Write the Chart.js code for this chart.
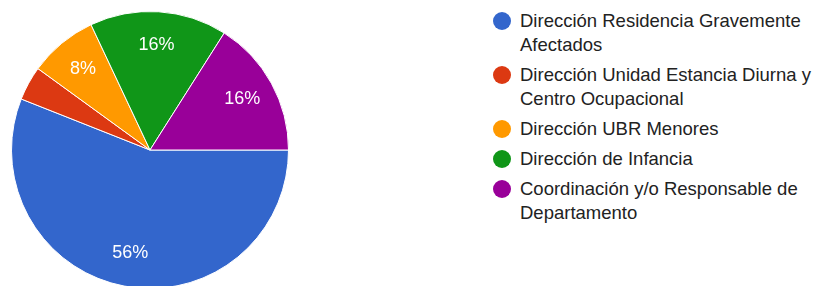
<!DOCTYPE html>
<html>
<head>
<meta charset="utf-8">
<script src="https://cdn.jsdelivr.net/npm/chart.js@4/dist/chart.umd.min.js"></script>
<style>
  html, body { margin: 0; padding: 0; background: #fff; width: 817px; height: 286px; overflow: hidden; }
  #wrap { position: absolute; left: 11px; top: 11px; width: 278px; height: 278px; }
  #legend { position: absolute; left: 493px; top: 9px; font-family: "Liberation Sans", Arial, sans-serif; font-size: 18.5px; color: #222; }
  .item { position: relative; padding-left: 27px; line-height: 24px; margin-bottom: 6px; white-space: nowrap; }
  .dot { position: absolute; left: 0; top: 3px; width: 18px; height: 18px; border-radius: 50%; }
</style>
</head>
<body>
<div id="wrap"><canvas id="c"></canvas></div>
<div id="legend"></div>
<script>
const categories = [
  ["Dirección Residencia Gravemente", "Afectados"],
  ["Dirección Unidad Estancia Diurna y", "Centro Ocupacional"],
  ["Dirección UBR Menores"],
  ["Dirección de Infancia"],
  ["Coordinación y/o Responsable de", "Departamento"]
];
const values = [56, 4, 8, 16, 16];
const colors = ["#3366cc", "#dc3912", "#ff9900", "#109618", "#990099"];

const pctLabels = {
  id: 'pctLabels',
  afterDatasetsDraw(chart) {
    const ctx = chart.ctx;
    const meta = chart.getDatasetMeta(0);
    const total = values.reduce((a, b) => a + b, 0);
    ctx.save();
    ctx.fillStyle = '#ffffff';
    ctx.font = '18px "Liberation Sans", Arial, sans-serif';
    ctx.textAlign = 'center';
    ctx.textBaseline = 'middle';
    meta.data.forEach((arc, i) => {
      const pct = values[i] / total * 100;
      if (pct < 5) return;
      const p = arc.getProps(['x', 'y', 'startAngle', 'endAngle', 'outerRadius'], true);
      const mid = (p.startAngle + p.endAngle) / 2;
      const d = p.outerRadius * 0.76;
      ctx.fillText(Math.round(pct) + '%', p.x + Math.cos(mid) * d, p.y + Math.sin(mid) * d);
    });
    ctx.restore();
  }
};

new Chart(document.getElementById('c'), {
  type: 'pie',
  data: {
    labels: categories.map(l => l.join(' ')),
    datasets: [{
      data: values,
      backgroundColor: colors,
      borderColor: '#ffffff',
      borderWidth: 1
    }]
  },
  options: {
    responsive: true,
    maintainAspectRatio: false,
    animation: false,
    rotation: 90,
    layout: { padding: 0 },
    plugins: { legend: { display: false }, tooltip: { enabled: false } }
  },
  plugins: [pctLabels]
});

const leg = document.getElementById('legend');
categories.forEach((lines, i) => {
  const it = document.createElement('div');
  it.className = 'item';
  const dot = document.createElement('span');
  dot.className = 'dot';
  dot.style.background = colors[i];
  it.appendChild(dot);
  lines.forEach((t, j) => {
    if (j) it.appendChild(document.createElement('br'));
    it.appendChild(document.createTextNode(t));
  });
  leg.appendChild(it);
});
</script>
</body>
</html>
